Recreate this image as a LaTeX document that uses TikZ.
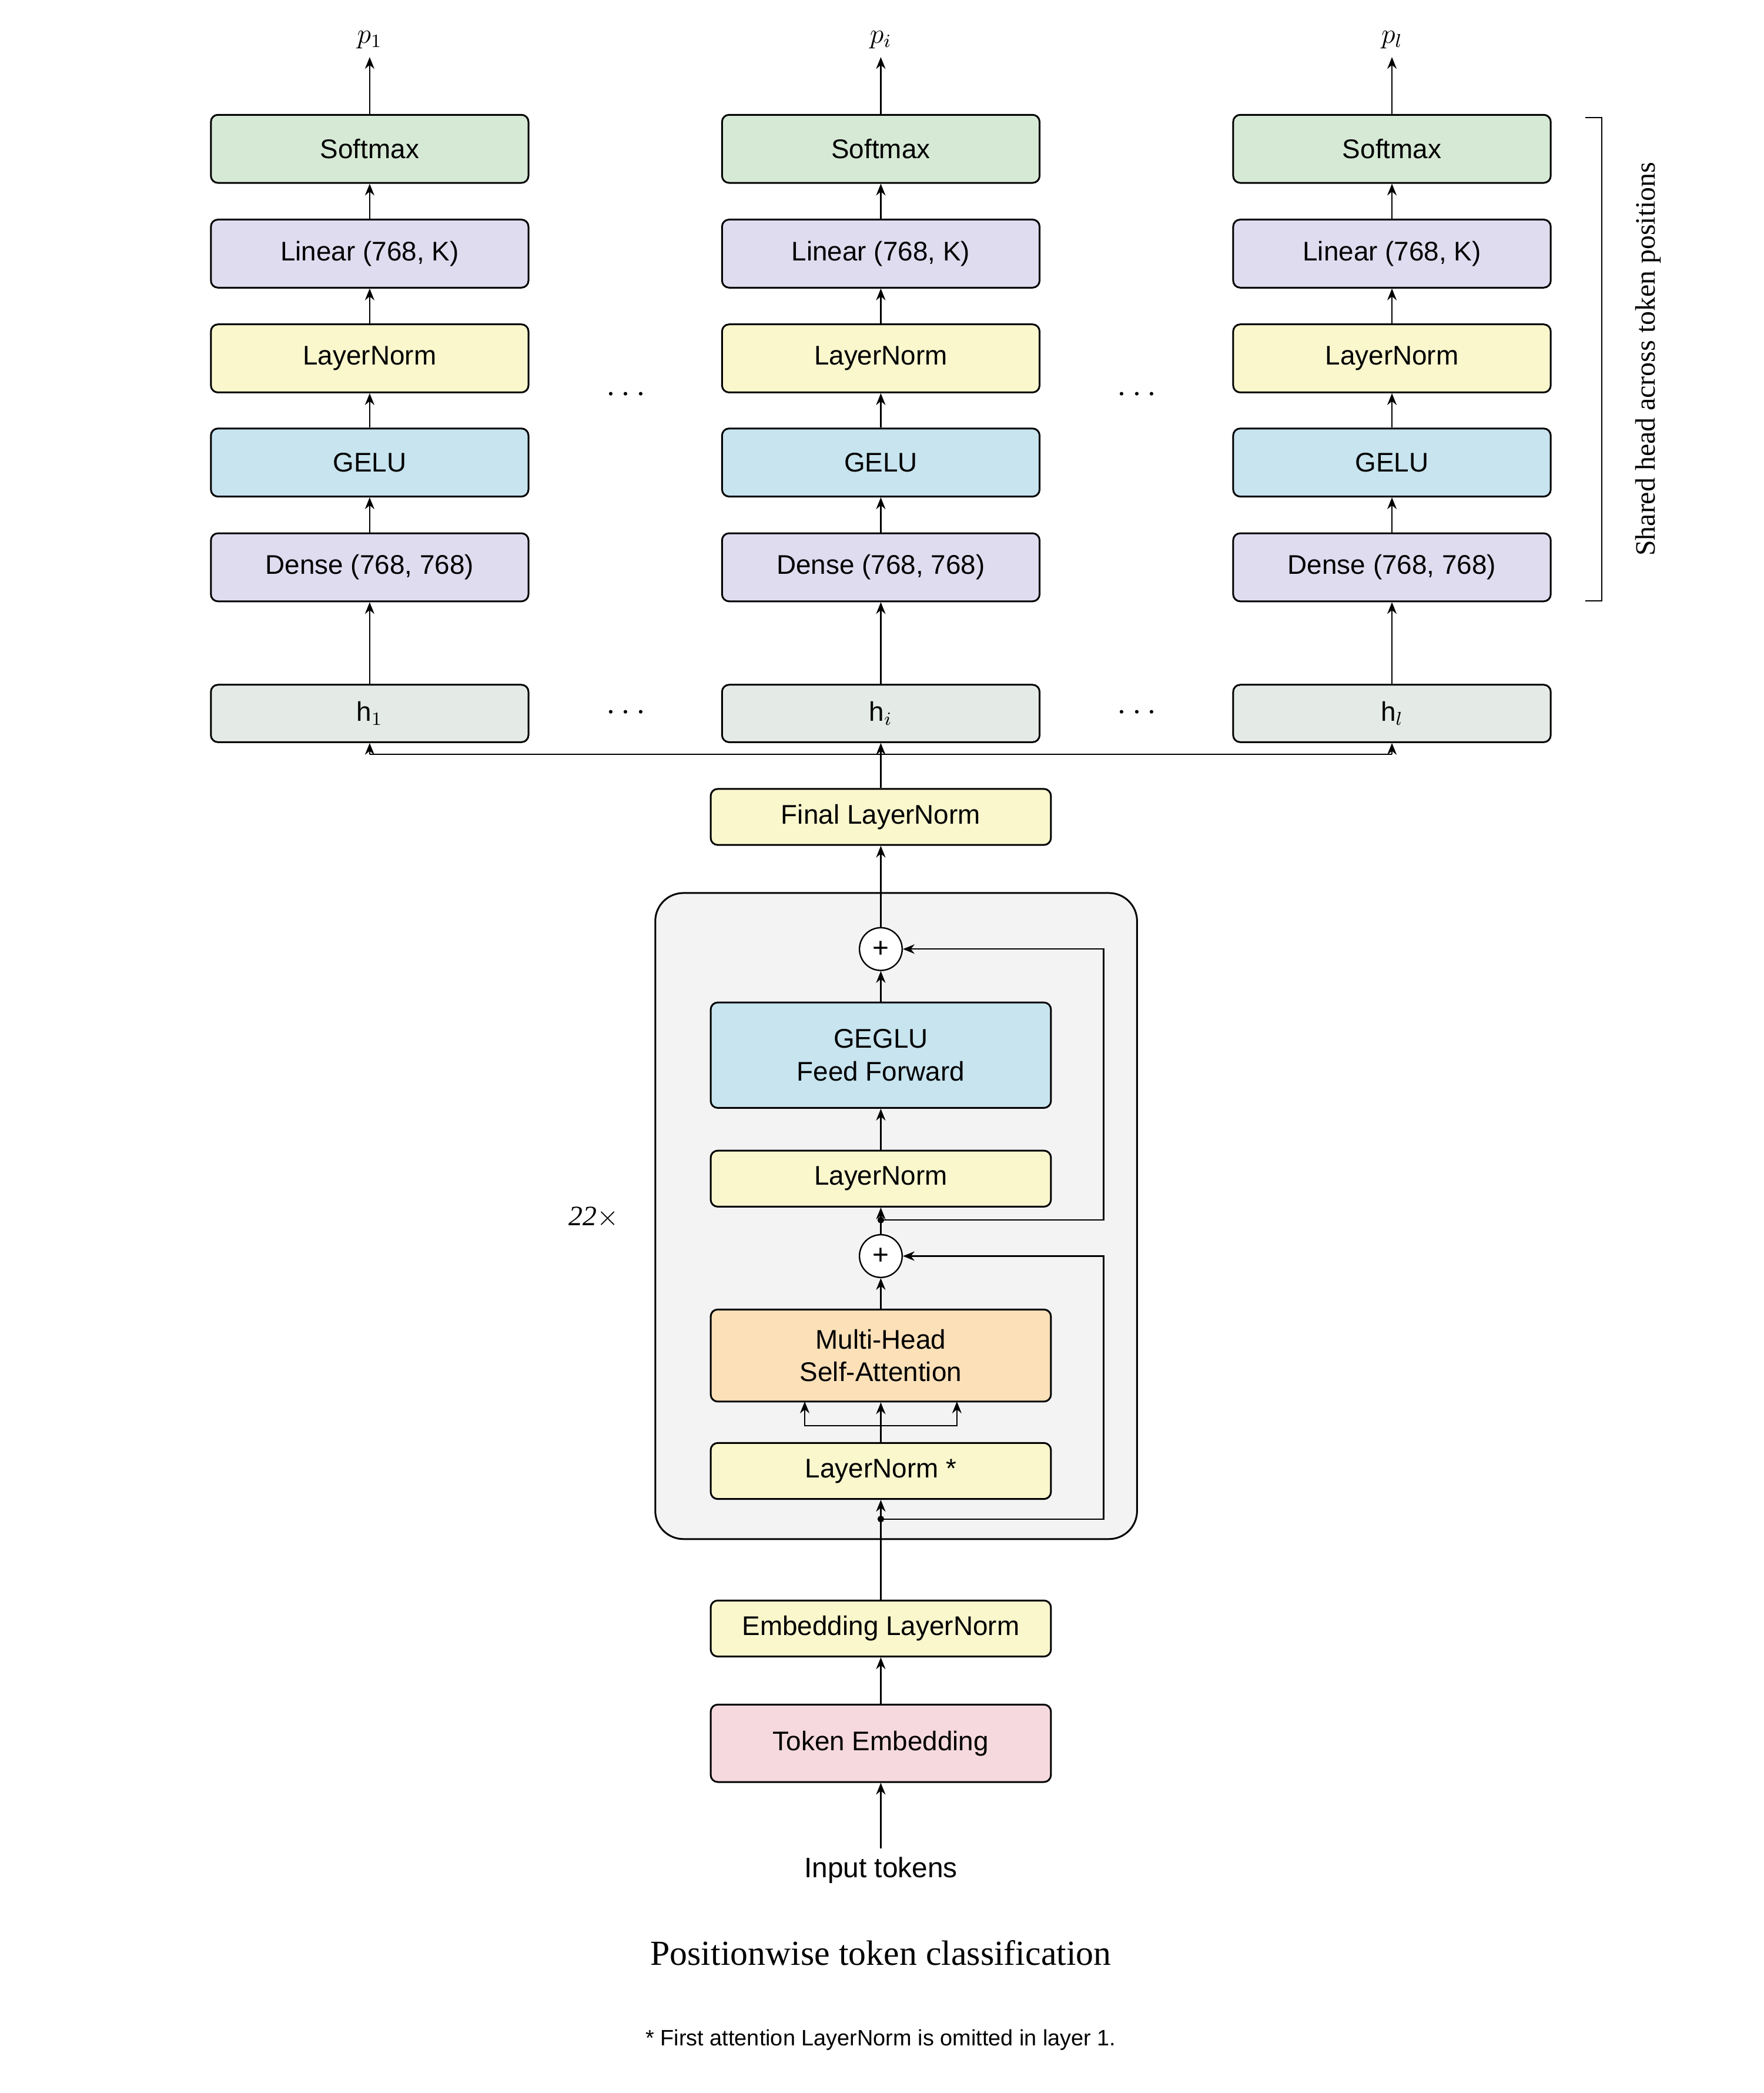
\documentclass[tikz,border=0pt]{standalone}
\usepackage{fontspec}
\setmainfont{Liberation Serif}
\setsansfont{Liberation Sans}
\usetikzlibrary{arrows.meta,positioning,calc}
\definecolor{softc}{HTML}{D6E9D5}
\definecolor{linc}{HTML}{E0DCF0}
\definecolor{lnc}{HTML}{FAF7CD}
\definecolor{geluc}{HTML}{C7E4EF}
\definecolor{hc}{HTML}{E4EBE6}
\definecolor{attc}{HTML}{FBE0B8}
\definecolor{embc}{HTML}{F6D9DE}
\definecolor{blockc}{HTML}{F3F3F3}
\tikzset{
  blk/.style={draw, rounded corners=3pt, line width=0.75pt, inner sep=0pt,
    font=\sffamily\fontsize{11.5}{14}\selectfont, align=center},
  headbox/.style={blk, minimum width=4.76cm, minimum height=1.02cm},
  hbox/.style={blk, fill=hc, minimum width=4.76cm, minimum height=0.86cm},
  midbox/.style={blk, minimum width=5.1cm, minimum height=0.84cm},
  arr/.style={-{Stealth[length=5pt,width=4pt]}, line width=0.6pt},
  plusc/.style={draw, circle, fill=white, line width=0.6pt, minimum size=0.64cm, inner sep=0pt, font=\sffamily\large},
  dotn/.style={font=\Large}
}
\begin{document}
\begin{tikzpicture}[x=0.02cm, y=-0.02cm]
  \useasboundingbox (0,0) rectangle (1321.6,1568);
  % prediction heads
  \foreach \c/\x in {1/277, i/660, l/1043} {
    \node[headbox, fill=softc] (soft\c) at (\x,111.5) {Softmax};
    \node[headbox, fill=linc] (lin\c) at (\x,190) {Linear (768, K)};
    \node[headbox, fill=lnc] (ln\c) at (\x,268.5) {LayerNorm};
    \node[headbox, fill=geluc] (gelu\c) at (\x,346.5) {GELU};
    \node[headbox, fill=linc] (dense\c) at (\x,425) {Dense (768, 768)};
    \node[hbox] (h\c) at (\x,534.5) {h$_\c$};
    \node[font=\large] (p\c) at (\x,30) {$p_\c$};
    \coordinate (bus\c) at (\x,565);
    \draw[arr] (h\c) -- (dense\c);
    \draw[arr] (dense\c) -- (gelu\c);
    \draw[arr] (gelu\c) -- (ln\c);
    \draw[arr] (ln\c) -- (lin\c);
    \draw[arr] (lin\c) -- (soft\c);
    \draw[arr] (soft\c) -- (p\c);
  }
  \foreach \x in {469, 852} {
    \node[dotn] at (\x,296) {$\cdots$};
    \node[dotn] at (\x,534) {$\cdots$};
  }
  % shared head bracket
  \draw[line width=0.5pt] (1188,88) -- (1200,88) -- (1200,450) -- (1188,450);
  \node[rotate=90, font=\fontsize{12}{14}\selectfont] (shared) at (1235,269) {Shared head across token positions};

  % encoder block
  \draw[line width=0.75pt, fill=blockc, rounded corners=12pt] (491,669) rectangle (852,1153);
  \node[midbox, fill=lnc] (finalln) at (660,612) {Final LayerNorm};
  \node[plusc] (add1) at (660,711) {+};
  \node[midbox, fill=geluc, minimum height=1.58cm] (ffn) at (660,790.5) {GEGLU\\Feed Forward};
  \node[midbox, fill=lnc] (ln2) at (660,883) {LayerNorm};
  \node[plusc] (add2) at (660,941) {+};
  \node[midbox, fill=attc, minimum height=1.38cm] (mhsa) at (660,1015.5) {Multi-Head\\Self-Attention};
  \node[midbox, fill=lnc] (ln1) at (660,1102) {LayerNorm *};
  \node[font=\itshape\fontsize{12}{14}\selectfont] (reps) at (445,912) {22$\times$};
  \node[midbox, fill=lnc] (embln) at (660,1220) {Embedding LayerNorm};
  \node[midbox, fill=embc, minimum height=1.16cm] (tokemb) at (660,1306) {Token Embedding};
  \node[font=\sffamily\fontsize{12}{14}\selectfont] (input) at (660,1401) {Input tokens};

  \coordinate (res1) at (660,1138);
  \coordinate (res2) at (660,914);
  \coordinate (split) at (660,1068);
  \coordinate (qk) at (603,1050);
  \coordinate (qv) at (717,1050);
  \fill (res1) circle (2.5);
  \fill (res2) circle (2.5);

  \draw[arr] (input) -- (tokemb);
  \draw[arr] (tokemb) -- (embln);
  \draw[arr] (embln) -- (ln1);
  \draw[arr] (ln1) -- (mhsa);
  \draw[arr] (split) -| (qk);
  \draw[arr] (split) -| (qv);
  \draw[arr] (mhsa) -- (add2);
  \draw[arr] (add2) -- (ln2);
  \draw[arr] (ln2) -- (ffn);
  \draw[arr] (ffn) -- (add1);
  \draw[arr] (add1) -- (finalln);
  \draw[arr] (res1) -- (827,1138) -- (827,941) -- (add2);
  \draw[arr] (res2) -- (827,914) -- (827,711) -- (add1);
  \draw[line width=0.6pt] (bus1) -- (busl);
  \draw[arr] (finalln) -- (hi);
  \draw[arr] (bus1) -- (h1);
  \draw[arr] (busl) -- (hl);

  % captions
  \node[font=\fontsize{15}{18}\selectfont] (title) at (660,1463) {Positionwise token classification};
  \node[font=\sffamily\fontsize{9.5}{12}\selectfont] (note) at (660,1528) {* First attention LayerNorm is omitted in layer 1.};
\end{tikzpicture}
\end{document}
